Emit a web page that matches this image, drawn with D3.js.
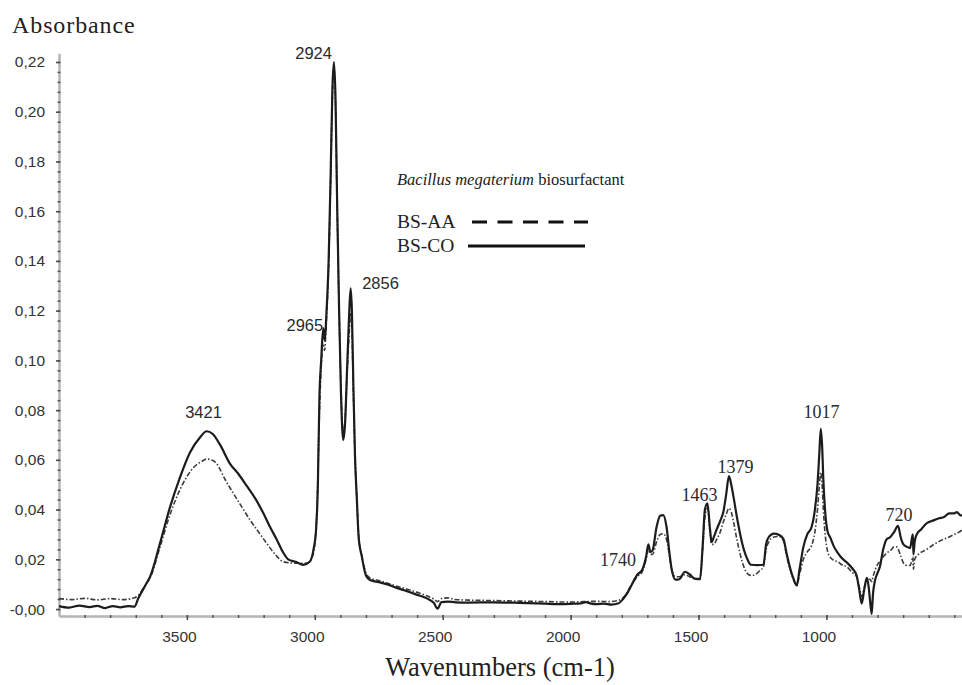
<!DOCTYPE html>
<html>
<head>
<meta charset="utf-8">
<script src="https://cdn.jsdelivr.net/npm/d3@7"></script>
<style>
  body { margin: 0; background: #fff; }
  svg { display: block; }
</style>
</head>
<body>
<svg width="962" height="685"></svg>
<script>
// FTIR spectra, [wavenumber, absorbance]
const bsCO = [
  [4000, 0.0012], [3960, 0.0006], [3920, 0.0014], [3880, 0.0008], [3850, 0.0013], [3820, 0.0004],
  [3790, 0.0012], [3760, 0.0007], [3730, 0.0012], [3705, 0.0010], [3690, 0.0043], [3660, 0.010],
  [3644, 0.013], [3605, 0.0265], [3566, 0.041], [3527, 0.053], [3488, 0.063], [3449, 0.069],
  [3423, 0.0715], [3400, 0.0705], [3370, 0.066], [3332, 0.0585], [3300, 0.0545], [3266, 0.0495],
  [3230, 0.044], [3201, 0.0385], [3175, 0.033], [3149, 0.028], [3125, 0.023], [3104, 0.020],
  [3075, 0.019], [3045, 0.0178], [3020, 0.019], [3005, 0.024], [2995, 0.032], [2988, 0.05],
  [2982, 0.085], [2975, 0.100], [2967, 0.113], [2961, 0.108], [2955, 0.118], [2946, 0.14],
  [2938, 0.175], [2931, 0.21], [2925, 0.220], [2919, 0.205], [2913, 0.165], [2905, 0.12],
  [2898, 0.088], [2889, 0.068], [2882, 0.074], [2874, 0.096], [2866, 0.118], [2860, 0.129],
  [2855, 0.12], [2850, 0.094], [2843, 0.062], [2836, 0.045], [2828, 0.028], [2817, 0.0215],
  [2800, 0.0135], [2784, 0.0117], [2750, 0.0108], [2719, 0.0100], [2680, 0.0085], [2640, 0.0072],
  [2602, 0.0058], [2560, 0.0042], [2535, 0.0025], [2520, 0.0002], [2505, 0.0028], [2480, 0.0030],
  [2450, 0.0027], [2400, 0.0026], [2300, 0.0027], [2200, 0.0025], [2100, 0.0022], [2050, 0.0020],
  [2000, 0.0021], [1960, 0.0023], [1940, 0.0028], [1920, 0.0022], [1900, 0.0020], [1870, 0.0022],
  [1840, 0.0018], [1815, 0.0022], [1795, 0.004], [1775, 0.007], [1760, 0.010], [1740, 0.0137],
  [1720, 0.0158], [1705, 0.021], [1696, 0.026], [1688, 0.023], [1680, 0.0235], [1664, 0.033],
  [1650, 0.0375], [1638, 0.0378], [1625, 0.033], [1613, 0.022], [1605, 0.016], [1590, 0.0118],
  [1575, 0.012], [1553, 0.015], [1535, 0.014], [1515, 0.0122], [1494, 0.012], [1484, 0.025],
  [1475, 0.040], [1465, 0.0425], [1455, 0.032], [1449, 0.027], [1440, 0.029], [1429, 0.032],
  [1415, 0.0355], [1403, 0.039], [1392, 0.046], [1381, 0.0535], [1372, 0.050], [1363, 0.045],
  [1350, 0.037], [1337, 0.030], [1323, 0.024], [1311, 0.0205], [1295, 0.0178], [1270, 0.0177],
  [1246, 0.0178], [1236, 0.026], [1225, 0.029], [1205, 0.0303], [1185, 0.0298], [1168, 0.0282],
  [1155, 0.022], [1142, 0.0165], [1128, 0.012], [1116, 0.0095], [1105, 0.016], [1090, 0.025],
  [1075, 0.030], [1058, 0.033], [1045, 0.040], [1035, 0.050], [1028, 0.062], [1022, 0.0725],
  [1017, 0.066], [1012, 0.052], [1004, 0.038], [995, 0.031], [986, 0.029], [970, 0.025],
  [955, 0.0225], [940, 0.0205], [921, 0.0188], [900, 0.0165], [882, 0.0135], [872, 0.008],
  [862, 0.0022], [852, 0.008], [842, 0.0125], [835, 0.009], [830, 0.004], [823, -0.002],
  [818, 0.006], [810, 0.0115], [800, 0.0145], [791, 0.017], [778, 0.024], [765, 0.028],
  [750, 0.029], [735, 0.031], [720, 0.0335], [710, 0.029], [699, 0.026], [685, 0.025],
  [673, 0.0245], [665, 0.029], [662, 0.030], [660, 0.022], [655, 0.027], [647, 0.030],
  [630, 0.032], [608, 0.0345], [585, 0.0355], [560, 0.0365], [540, 0.037], [520, 0.0385],
  [500, 0.0385], [490, 0.039], [480, 0.038], [470, 0.0375]
];

const bsAA = [
  [4000, 0.0042], [3950, 0.0038], [3900, 0.0043], [3850, 0.0037], [3800, 0.0042], [3750, 0.0038],
  [3705, 0.0045], [3690, 0.0055], [3660, 0.010], [3644, 0.0125], [3605, 0.025], [3566, 0.038],
  [3527, 0.048], [3476, 0.0567], [3440, 0.0595], [3423, 0.0603], [3400, 0.0598], [3384, 0.0585],
  [3350, 0.052], [3319, 0.0466], [3285, 0.041], [3253, 0.0358], [3220, 0.031], [3188, 0.0264],
  [3155, 0.022], [3123, 0.019], [3090, 0.0185], [3058, 0.0184], [3030, 0.0185], [3010, 0.021],
  [2998, 0.028], [2990, 0.045], [2983, 0.075], [2976, 0.095], [2968, 0.107], [2962, 0.104],
  [2955, 0.115], [2946, 0.137], [2938, 0.172], [2931, 0.207], [2925, 0.217], [2919, 0.203],
  [2913, 0.163], [2905, 0.12], [2898, 0.09], [2889, 0.071], [2882, 0.076], [2874, 0.094],
  [2866, 0.11], [2860, 0.119], [2855, 0.112], [2850, 0.09], [2843, 0.062], [2836, 0.045],
  [2828, 0.029], [2817, 0.022], [2800, 0.0145], [2784, 0.0125], [2750, 0.0115], [2719, 0.0105],
  [2680, 0.0092], [2640, 0.008], [2602, 0.0068], [2560, 0.0052], [2535, 0.0040], [2520, 0.0030],
  [2505, 0.0042], [2480, 0.0045], [2450, 0.0038], [2400, 0.0036], [2300, 0.0034], [2200, 0.0032],
  [2100, 0.0030], [2000, 0.0028], [1950, 0.0030], [1900, 0.0031], [1850, 0.0030], [1815, 0.0034],
  [1795, 0.0045], [1775, 0.0075], [1760, 0.010], [1740, 0.013], [1720, 0.015], [1705, 0.020],
  [1696, 0.024], [1688, 0.022], [1680, 0.022], [1664, 0.027], [1650, 0.030], [1638, 0.0303],
  [1625, 0.028], [1613, 0.021], [1605, 0.016], [1590, 0.013], [1575, 0.013], [1553, 0.0138],
  [1535, 0.013], [1515, 0.0122], [1494, 0.012], [1484, 0.024], [1475, 0.037], [1465, 0.0405],
  [1455, 0.031], [1449, 0.026], [1440, 0.026], [1429, 0.028], [1415, 0.031], [1403, 0.035],
  [1392, 0.038], [1381, 0.0405], [1372, 0.039], [1363, 0.035], [1350, 0.028], [1337, 0.022],
  [1323, 0.017], [1311, 0.0145], [1295, 0.0135], [1280, 0.0138], [1260, 0.0155], [1246, 0.017],
  [1236, 0.024], [1225, 0.027], [1205, 0.029], [1185, 0.0292], [1168, 0.0275], [1155, 0.021],
  [1142, 0.016], [1128, 0.0115], [1116, 0.0095], [1105, 0.014], [1090, 0.020], [1075, 0.023],
  [1058, 0.0255], [1045, 0.031], [1035, 0.040], [1028, 0.049], [1022, 0.055], [1017, 0.050],
  [1012, 0.040], [1004, 0.029], [995, 0.023], [986, 0.021], [970, 0.0195], [955, 0.019],
  [940, 0.0178], [921, 0.017], [900, 0.0148], [882, 0.013], [872, 0.009], [862, 0.005],
  [852, 0.0085], [842, 0.0115], [830, 0.012], [823, 0.011], [818, 0.013], [810, 0.0155],
  [800, 0.018], [791, 0.019], [778, 0.021], [765, 0.0225], [750, 0.0235], [735, 0.025],
  [726, 0.025], [710, 0.0215], [699, 0.0185], [685, 0.0175], [673, 0.0175], [665, 0.020],
  [662, 0.021], [660, 0.016], [655, 0.020], [640, 0.022], [608, 0.024], [580, 0.026],
  [543, 0.028], [520, 0.029], [500, 0.030], [480, 0.031], [470, 0.0318]
];

const xTicks = [3500, 3000, 2500, 2000, 1500, 1000];
const xMinor = d3.range(3900, 450, -100);
const yTicks = [0, 0.02, 0.04, 0.06, 0.08, 0.10, 0.12, 0.14, 0.16, 0.18, 0.20, 0.22];
const yTickLabels = ["-0,00", "0,02", "0,04", "0,06", "0,08", "0,10", "0,12", "0,14", "0,16", "0,18", "0,20", "0,22"];
const yMinor = d3.range(0, 0.2236, 0.004);

// peak annotations: text, wavenumber / absorbance of the label anchor
const peakText = ["3421", "2965", "2924", "2856", "1740", "1463", "1379", "1017", "720"];
const peakWn   = [3435, 2967, 2933, 2815, 1744, 1496, 1355, 1019, 716];
const peakAbs  = [0.0768, 0.1118, 0.2214, 0.1287, 0.0173, 0.0434, 0.0547, 0.0768, 0.0354];
const peakAnchor = ["middle", "end", "end", "start", "end", "middle", "middle", "middle", "middle"];
const peakSerif = [false, false, false, false, true, true, true, true, true];

const svg = d3.select("svg");

const x = d3.scaleLinear().domain([4000, 470]).range([59, 962]);
const y = d3.scaleLinear().domain([-0.0028, 0.2235]).range([616, 53.3]);

// axes
const xAxis = svg.append("g").attr("transform", "translate(0,616)")
  .call(d3.axisBottom(x).tickValues(xTicks).tickSizeInner(4).tickSizeOuter(0).tickFormat(d3.format("d")));
xAxis.select(".domain").attr("stroke", "#b5b5b5").attr("stroke-width", 2.5);
xAxis.selectAll(".tick line").attr("stroke", "#444").attr("stroke-width", 1.5).attr("y1", -1);
xAxis.selectAll(".tick text")
  .attr("x", -8).attr("y", 15)
  .attr("font-family", "Liberation Sans, Arial, sans-serif").attr("font-size", 15.5)
  .attr("fill", "#333");

const xMinorAxis = svg.append("g").attr("transform", "translate(0,616)")
  .call(d3.axisBottom(x).tickValues(xMinor).tickSize(2).tickFormat(""));
xMinorAxis.select(".domain").remove();
xMinorAxis.selectAll(".tick line").attr("stroke", "#555").attr("stroke-width", 1.5).attr("y1", -1);

const yAxis = svg.append("g").attr("transform", "translate(59,0)")
  .call(d3.axisLeft(y).tickValues(yTicks).tickSizeInner(3).tickSizeOuter(0).tickPadding(11)
    .tickFormat((d, i) => yTickLabels[i]));
yAxis.select(".domain").attr("stroke", "#b5b5b5").attr("stroke-width", 2.5);
yAxis.selectAll(".tick line").attr("stroke", "#444").attr("stroke-width", 1.5).attr("x1", 1);
yAxis.selectAll(".tick text")
  .attr("font-family", "Liberation Sans, Arial, sans-serif").attr("font-size", 15.5)
  .attr("fill", "#333");

const yMinorAxis = svg.append("g").attr("transform", "translate(59,0)")
  .call(d3.axisLeft(y).tickValues(yMinor).tickSize(1.5).tickFormat(""));
yMinorAxis.select(".domain").remove();
yMinorAxis.selectAll(".tick line").attr("stroke", "#555").attr("stroke-width", 1.5).attr("x1", 1.5);

// spectra
const line = d3.line()
  .x(d => x(d[0]))
  .y(d => y(d[1]))
  .curve(d3.curveMonotoneX);

svg.append("path")
  .datum(bsAA)
  .attr("fill", "none")
  .attr("stroke", "#3c3c3c")
  .attr("stroke-width", 1.6)
  .attr("stroke-dasharray", "5,2,1.5,2")
  .attr("d", line);

svg.append("path")
  .datum(bsCO)
  .attr("fill", "none")
  .attr("stroke", "#1c1c1c")
  .attr("stroke-width", 2.2)
  .attr("d", line);

// peak labels
svg.selectAll(".peak")
  .data(peakText)
  .enter().append("text")
  .attr("class", "peak")
  .attr("x", (d, i) => x(peakWn[i]))
  .attr("y", (d, i) => y(peakAbs[i]))
  .attr("text-anchor", (d, i) => peakAnchor[i])
  .attr("font-family", (d, i) => peakSerif[i] ? "Liberation Serif, Times New Roman, serif" : "Liberation Sans, Arial, sans-serif")
  .attr("font-size", (d, i) => peakSerif[i] ? 18 : 16.5)
  .attr("fill", "#2a2a2a")
  .text(d => d);

// axis titles
svg.append("text")
  .attr("x", 12).attr("y", 33)
  .attr("font-family", "Liberation Serif, Times New Roman, serif")
  .attr("font-size", 24)
  .attr("letter-spacing", 0.9)
  .attr("fill", "#222")
  .text("Absorbance");

svg.append("text")
  .attr("x", 500).attr("y", 676)
  .attr("text-anchor", "middle")
  .attr("font-family", "Liberation Serif, Times New Roman, serif")
  .attr("font-size", 26.5)
  .attr("fill", "#222")
  .text("Wavenumbers (cm-1)");

// legend
const legend = svg.append("g");
const title = legend.append("text")
  .attr("x", 397).attr("y", 185)
  .attr("font-family", "Liberation Serif, Times New Roman, serif")
  .attr("font-size", 16.5)
  .attr("fill", "#222");
title.append("tspan").attr("font-style", "italic").text("Bacillus megaterium");
title.append("tspan").text(" biosurfactant");

legend.append("text")
  .attr("x", 397).attr("y", 228)
  .attr("font-family", "Liberation Serif, Times New Roman, serif")
  .attr("font-size", 19.5)
  .attr("fill", "#222")
  .text("BS-AA");
legend.append("line")
  .attr("x1", 472).attr("x2", 588).attr("y1", 222).attr("y2", 222)
  .attr("stroke", "#111").attr("stroke-width", 3)
  .attr("stroke-dasharray", "15,10.5");

legend.append("text")
  .attr("x", 397).attr("y", 252)
  .attr("font-family", "Liberation Serif, Times New Roman, serif")
  .attr("font-size", 19.5)
  .attr("fill", "#222")
  .text("BS-CO");
legend.append("line")
  .attr("x1", 468).attr("x2", 585).attr("y1", 246).attr("y2", 246)
  .attr("stroke", "#111").attr("stroke-width", 3);
</script>
</body>
</html>
